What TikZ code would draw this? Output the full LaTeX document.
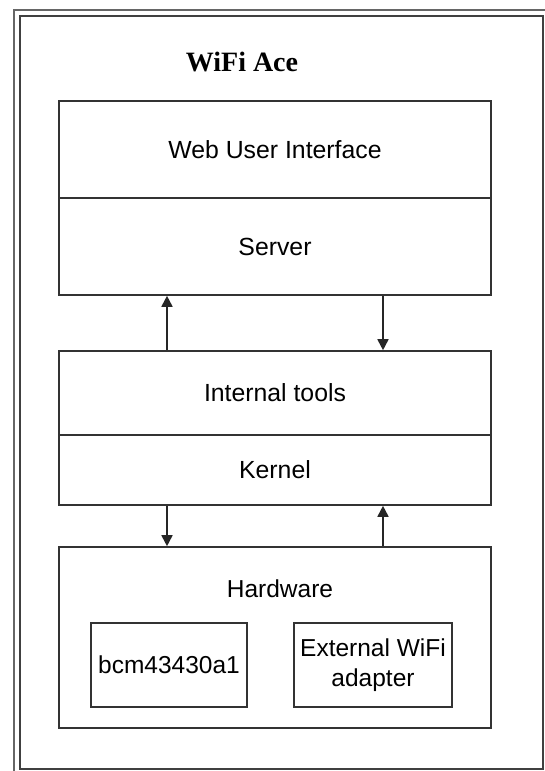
\documentclass[tikz,border=0pt]{standalone}
\usepackage{fontspec}
\setmainfont{Liberation Sans}
\newfontfamily\titlefont{Liberation Serif}
\usetikzlibrary{arrows.meta}
\tikzset{
  layer/.style={draw=black!80, line width=1.6pt, minimum width=432pt, inner sep=0pt,
    font=\fontsize{24.8}{28}\selectfont, align=center},
  chip/.style={draw=black!80, line width=1.6pt, minimum height=84pt, inner sep=0pt,
    font=\fontsize{24.5}{29.5}\selectfont, align=center},
  arr/.style={draw=black!85, line width=1.7pt, -{Triangle[length=11pt,width=11pt]}},
  frameout/.style={draw=black!60, line width=1.6pt},
  framein/.style={draw=black!75, line width=1.6pt}
}
\begin{document}
\begin{tikzpicture}[x=1pt,y=-1pt]
\useasboundingbox (0,0) rectangle (545,771);
\clip (0,0) rectangle (545,771);
\fill[white] (0,0) rectangle (545,771);
% frame
\draw[frameout] (14,10) rectangle (580,800);
\draw[framein] (20,16) rectangle (543,769);
% title
\node[font=\titlefont\bfseries\fontsize{28}{31}\selectfont, anchor=base] (title) at (242,71) {WiFi Ace};
% layers
\node[layer, minimum height=97pt] (web) at (275,149.5) {Web User Interface};
\node[layer, minimum height=97pt] (server) at (275,246.5) {Server};
\node[layer, minimum height=84pt] (tools) at (275,393) {Internal tools};
\node[layer, minimum height=70pt] (kernel) at (275,470) {Kernel};
\node[layer, minimum height=181pt] (hw) at (275,637.5) {};
\node[font=\fontsize{24.5}{28}\selectfont] (hwlabel) at (280,589) {Hardware};
\node[chip, minimum width=156pt] (bcm) at (169,665) {bcm43430a1};
\node[chip, minimum width=158pt] (ext) at (373,665) {External WiFi\\adapter};
% arrow columns
\coordinate (xl) at (167,0);
\coordinate (xr) at (383,0);
\draw[arr] (tools.north -| xl) -- (server.south -| xl);
\draw[arr] (server.south -| xr) -- (tools.north -| xr);
\draw[arr] (kernel.south -| xl) -- (hw.north -| xl);
\draw[arr] (hw.north -| xr) -- (kernel.south -| xr);
\end{tikzpicture}
\end{document}
